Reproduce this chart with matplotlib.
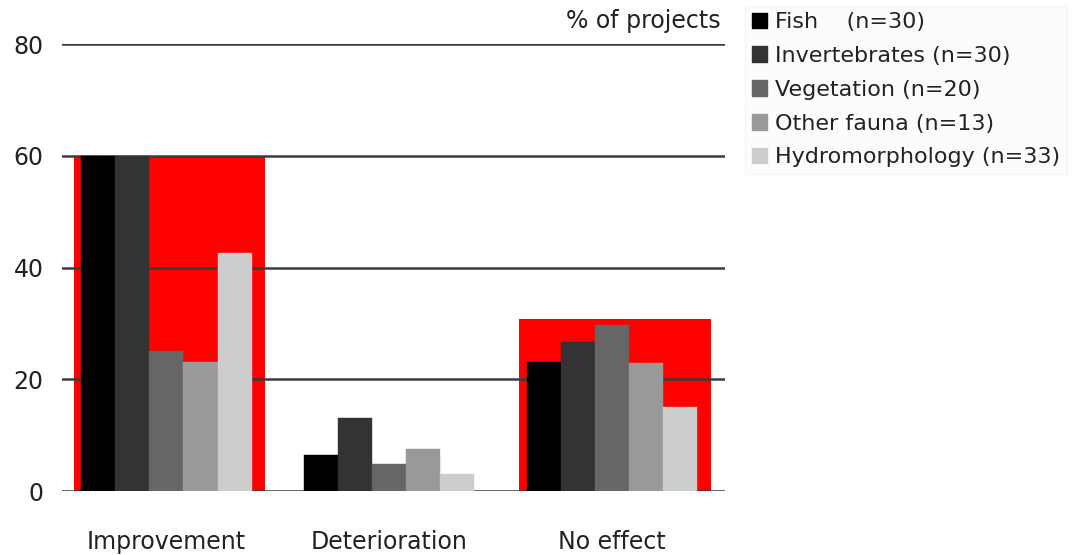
import numpy as np
import matplotlib.pyplot as plt
from matplotlib.patches import Patch

# data
categories = ['Improvement', 'Deterioration', 'No effect']
series = ['Fish    (n=30)', 'Invertebrates (n=30)', 'Vegetation (n=20)',
          'Other fauna (n=13)', 'Hydromorphology (n=33)']
fish = [60, 6.5, 23.1]
invertebrates = [60, 13.1, 26.6]
vegetation = [25.0, 4.8, 29.7]
other_fauna = [23.0, 7.6, 22.9]
hydromorphology = [42.6, 3.1, 15.0]
highlight = [60, 0, 30.7]   # red boxes behind groups

values = [fish, invertebrates, vegetation, other_fauna, hydromorphology]
colors = ['#000000', '#333333', '#666666', '#999999', '#cccccc']

fig = plt.figure(figsize=(10.84, 5.55), dpi=100)
ax = fig.add_axes([0.057, 0.1153, 0.612, 0.8054])

x = np.arange(len(categories))
bw = 0.153

# red highlight boxes
for i, h in enumerate(highlight):
    if h > 0:
        ax.bar(x[i] + 0.015, h, width=0.86, color='#ff0000', zorder=1)

for k, (vals, c) in enumerate(zip(values, colors)):
    ax.bar(x + (k - 2) * bw, vals, width=bw, color=c, zorder=3,
           edgecolor=c, linewidth=0.3)

ax.set_ylim(0, 80)
ax.set_xlim(-0.47, 2.51)
ax.set_yticks([0, 20, 40, 60, 80])
ax.yaxis.grid(True, color='#3a3a3a', linewidth=1.8, zorder=2)
ax.set_axisbelow(False)
for s in ax.spines.values():
    s.set_visible(False)
ax.tick_params(axis='both', length=0, labelsize=17, colors='#222222')
ax.tick_params(axis='y', pad=13)
ax.tick_params(axis='x', pad=28)
ax.set_xticks(x)
ax.set_xticklabels(categories)

fig.text(0.665, 0.962, '% of projects', ha='right', va='center',
         fontsize=17, color='#222222')

handles = [Patch(facecolor=c, edgecolor=c) for c in colors]
leg = fig.legend(handles, series, loc='upper left',
                 bbox_to_anchor=(0.677, 1.01), fontsize=16,
                 handlelength=0.7, handleheight=0.7, handletextpad=0.35,
                 labelspacing=0.62, frameon=True, borderpad=0.3,
                 fancybox=False)
leg.get_frame().set_facecolor('#fcfcfc')
leg.get_frame().set_edgecolor('#f4f4f4')
for t in leg.get_texts():
    t.set_color('#222222')

fig.savefig('out.png', dpi=100)
